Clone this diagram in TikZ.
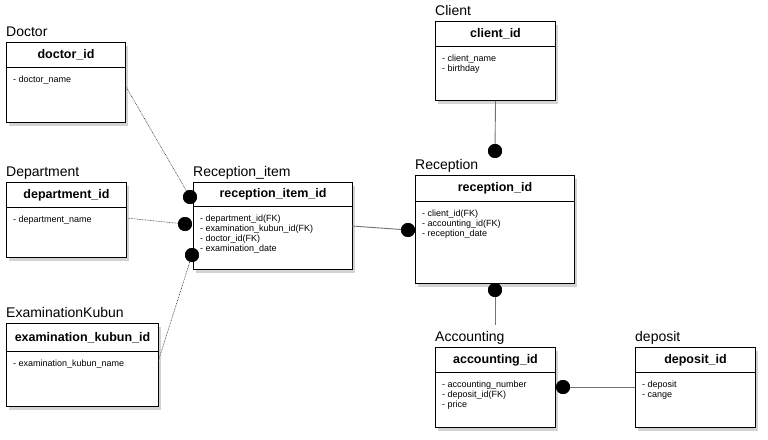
\documentclass[tikz,border=0pt]{standalone}
\usepackage{fontspec}
\setmainfont{Liberation Sans}
\usetikzlibrary{shadows}
\tikzset{
  ent/.style={draw=black, line width=1pt, fill=white, rectangle, inner sep=0pt,
    drop shadow={opacity=0.35, shadow xshift=2pt, shadow yshift=-3pt}},
  entline/.style={draw=black, line width=0.8pt},
  ttl/.style={inner sep=0pt, anchor=base west, font=\fontsize{14}{16}\selectfont},
  hdr/.style={inner sep=0pt, font=\bfseries\fontsize{12.5}{14}\selectfont},
  attr/.style={inner sep=0pt, anchor=north west, align=left, font=\fontsize{9}{10}\selectfont},
  dotn/.style={circle, fill=black, draw=none, minimum size=14pt, inner sep=0pt},
  dotted link/.style={draw=black!75, line width=0.6pt, dash pattern=on 0.8pt off 0.8pt},
  solid link/.style={draw=black!55, line width=0.9pt},
}
% name, x, y, w, h, header height, title, header, attributes
\newcommand{\entity}[9]{%
  \node[ent, minimum width=#4pt, minimum height=#5pt, anchor=north west] (#1) at (#2,#3) {};
  \draw[entline] ([yshift=-#6pt]#1.north west) -- ([yshift=-#6pt]#1.north east);
  \node[ttl] (#1-t) at ([yshift=6pt]#1.north west) {#7};
  \node[hdr] (#1-h) at ([yshift=-#6pt/2-0.5pt]#1.north) {#8};
  \node[attr] (#1-a) at ([xshift=7pt,yshift=-#6pt-8.5pt]#1.north west) {#9};
}
\begin{document}
\begin{tikzpicture}[x=1pt,y=-1pt]
\useasboundingbox (0,0) rectangle (768,439);
\entity{doctor}{6}{42}{119}{80}{25}{Doctor}{doctor\_id}{- doctor\_name}
\entity{department}{6}{182}{120}{75}{25}{Department}{department\_id}{- department\_name}
\entity{exam}{6}{323}{152}{83}{28}{ExaminationKubun}{examination\_kubun\_id}{- examination\_kubun\_name}
\entity{ritem}{193}{182}{159}{87}{24}{Reception\_item}{reception\_item\_id}{- department\_id(FK)\\- examination\_kubun\_id(FK)\\- doctor\_id(FK)\\- examination\_date}
\entity{reception}{415}{175}{159}{108}{26}{Reception}{reception\_id}{- client\_id(FK)\\- accounting\_id(FK)\\- reception\_date}
\entity{client}{435}{21}{120}{79}{25}{Client}{client\_id}{- client\_name\\- birthday}
\entity{accounting}{435}{347}{120}{80}{25}{Accounting}{accounting\_id}{- accounting\_number\\- deposit\_id(FK)\\- price}
\entity{deposit}{635}{347}{120}{80}{25}{deposit}{deposit\_id}{- deposit\\- cange}

% dots
\node[dotn] (d1) at (190,197) {};
\node[dotn] (d2) at (185,224) {};
\node[dotn] (d3) at (192,255) {};
\node[dotn] (d4) at (408,230) {};
\node[dotn] (d5) at (495,151) {};
\node[dotn] (d6) at (495,290) {};
\node[dotn] (d7) at (563,387) {};

\coordinate (c1) at (125,85);
\coordinate (c2) at (126,218);
\coordinate (c3) at (158,362);
\coordinate (c4) at (352,226);
\coordinate (c6) at (495,325);

\draw[dotted link] (c1) -- (d1.center);
\draw[dotted link] (c2) -- (d2.center);
\draw[dotted link] (c3) -- (d3.center);
\draw[solid link] (c4) -- (d4.center);
\draw[solid link] (client.south) -- (d5.center);
\draw[solid link] (d6.center) -- (c6);
\draw[solid link] (d7.center) -- (deposit.west |- d7);
% redraw dots on top
\foreach \d in {d1,d2,d3,d4,d5,d6,d7} \fill (\d) circle (7pt);
\end{tikzpicture}
\end{document}
